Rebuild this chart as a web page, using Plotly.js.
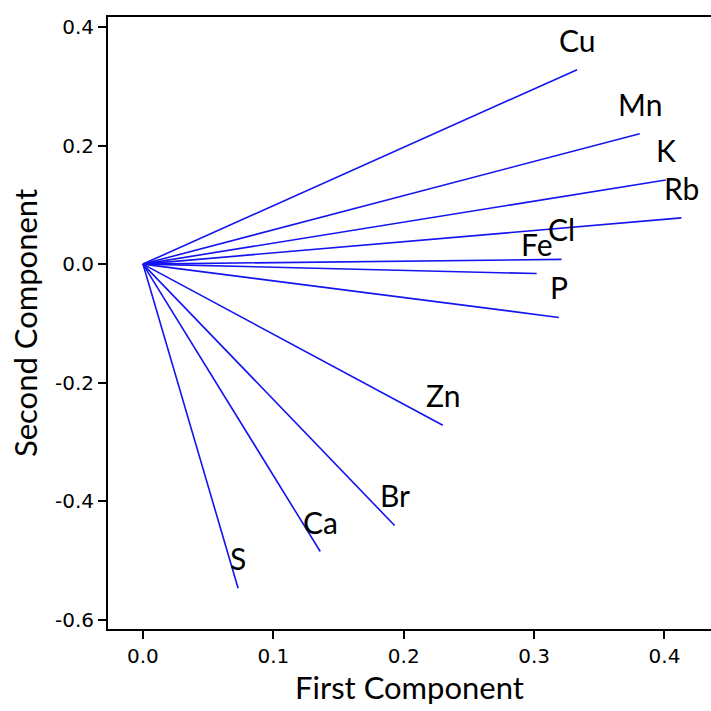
<!DOCTYPE html>
<html>
<head>
<meta charset="utf-8">
<script src="https://cdn.plot.ly/plotly-3.0.1.min.js"></script>
<style>html,body{margin:0;padding:0;background:#fff;}#chart{width:711px;height:711px;}</style>
</head>
<body>
<div id="chart"></div>
<script>
const elements = ["Cu", "Mn", "K", "Rb", "Cl", "Fe", "P", "Zn", "Br", "Ca", "S"];
const firstComponent = [0.333, 0.381, 0.401, 0.413, 0.321, 0.302, 0.319, 0.230, 0.193, 0.136, 0.073];
const secondComponent = [0.328, 0.220, 0.142, 0.078, 0.008, -0.016, -0.090, -0.272, -0.441, -0.485, -0.547];
const xTicks = [0.0, 0.1, 0.2, 0.3, 0.4];
const yTicks = [-0.6, -0.4, -0.2, 0.0, 0.2, 0.4];

const traces = elements.map((name, i) => ({
  type: 'scatter', mode: 'lines', name: name,
  x: [0, firstComponent[i]], y: [0, secondComponent[i]],
  line: {color: '#1414f0', width: 1.6}, hoverinfo: 'skip'
}));

const annotations = elements.map((name, i) => ({
  x: firstComponent[i], y: secondComponent[i], text: name,
  showarrow: false, yshift: 30, xanchor: 'center', yanchor: 'middle',
  font: {family: 'Lato, Open Sans, sans-serif', size: 30, color: '#000'}
}));

const tickFont = {family: 'DejaVu Sans, sans-serif', size: 20, color: '#000'};
const titleFont = {family: 'Lato, Open Sans, sans-serif', size: 31, color: '#000'};

const layout = {
  width: 711, height: 711,
  margin: {l: 108, r: 0, t: 17, b: 82},
  paper_bgcolor: '#fff', plot_bgcolor: '#fff',
  showlegend: false,
  xaxis: {
    range: [-0.0268, 0.4357], tickvals: xTicks, ticktext: xTicks.map(v => v.toFixed(1)),
    ticks: 'outside', ticklen: 8, tickwidth: 2, tickcolor: '#000',
    showline: true, linecolor: '#000', linewidth: 2, mirror: true,
    showgrid: false, zeroline: false, tickfont: tickFont,
    title: {text: 'First Component', font: titleFont, standoff: 8}
  },
  yaxis: {
    range: [-0.6157, 0.4169], tickvals: yTicks, ticktext: yTicks.map(v => v.toFixed(1)),
    ticks: 'outside', ticklen: 8, tickwidth: 2, tickcolor: '#000',
    showline: true, linecolor: '#000', linewidth: 2,
    showgrid: false, zeroline: false, tickfont: tickFont,
    title: {text: 'Second Component', font: titleFont, standoff: 8}
  },
  annotations: annotations
};

Plotly.newPlot('chart', traces, layout, {displayModeBar: false, staticPlot: true});
</script>
</body>
</html>
